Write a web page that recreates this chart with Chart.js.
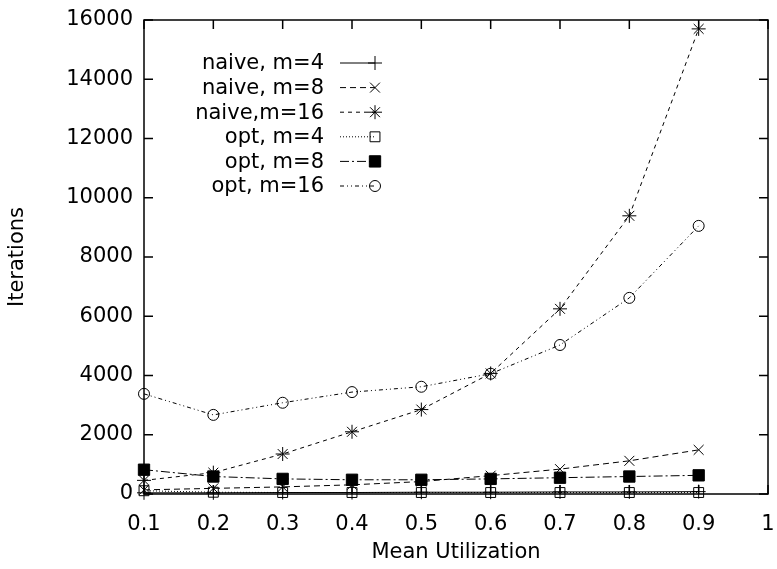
<!DOCTYPE html>
<html>
<head>
<meta charset="utf-8">
<script src="https://cdn.jsdelivr.net/npm/chart.js@4/dist/chart.umd.min.js"></script>
<style>
html,body{margin:0;padding:0;background:#fff;}
#wrap{width:777px;height:569px;}
</style>
</head>
<body>
<div id="wrap"><canvas id="c" width="777" height="569"></canvas></div>
<script>
const utilization = [0.1, 0.2, 0.3, 0.4, 0.5, 0.6, 0.7, 0.8, 0.9];
const naiveM4  = [40, 40, 50, 50, 60, 60, 70, 70, 80];
const naiveM8  = [140, 190, 240, 310, 420, 620, 840, 1120, 1490];
const naiveM16 = [460, 720, 1350, 2100, 2850, 4070, 6250, 9390, 15700];
const optM4    = [110, 60, 50, 50, 50, 50, 50, 50, 50];
const optM8    = [820, 590, 510, 480, 480, 510, 550, 590, 630];
const optM16   = [3380, 2670, 3080, 3440, 3620, 4060, 5030, 6620, 9050];
const xTicks = [0.1, 0.2, 0.3, 0.4, 0.5, 0.6, 0.7, 0.8, 0.9, 1];
const yTicks = [0, 2000, 4000, 6000, 8000, 10000, 12000, 14000, 16000];
const seriesNames = ['naive, m=4', 'naive, m=8', 'naive,m=16', 'opt, m=4', 'opt, m=8', 'opt, m=16'];

const FONT = 'DejaVu Sans';
const toPts = arr => utilization.map((x, i) => ({x: x, y: arr[i]}));

function ds(label, arr, dash, style, radius, filled) {
  return {
    label: label,
    data: toPts(arr),
    borderColor: '#000',
    borderWidth: 1,
    borderDash: dash,
    backgroundColor: filled ? '#000' : 'rgba(0,0,0,0)',
    pointStyle: style,
    pointRadius: radius,
    pointBorderColor: '#000',
    pointBackgroundColor: filled ? '#000' : 'rgba(0,0,0,0)',
    pointBorderWidth: 1,
    showLine: true,
    fill: false,
    tension: 0,
    clip: false
  };
}

const datasets = [
  ds(seriesNames[0], naiveM4, [], 'cross', 7, false),
  ds(seriesNames[1], naiveM8, [6, 4], 'crossRot', 7, false),
  ds(seriesNames[2], naiveM16, [4, 4], 'star', 7, false),
  ds(seriesNames[3], optM4, [1, 2], 'rect', 7, false),
  ds(seriesNames[4], optM8, [9, 3, 2, 3], 'rect', 8, true),
  ds(seriesNames[5], optM16, [4, 3, 1, 3, 1, 3], 'circle', 5.5, false)
];

const framePlugin = {
  id: 'frame',
  afterDraw(chart) {
    const ctx = chart.ctx;
    const a = chart.chartArea;
    const xs = chart.scales.x, ys = chart.scales.y;
    ctx.save();
    ctx.strokeStyle = '#000';
    ctx.lineWidth = 1.5;
    ctx.setLineDash([]);
    ctx.strokeRect(a.left, a.top, a.right - a.left, a.bottom - a.top);
    const tl = 9;
    ctx.beginPath();
    xTicks.forEach(v => {
      const px = xs.getPixelForValue(v);
      ctx.moveTo(px, a.bottom); ctx.lineTo(px, a.bottom - tl);
      ctx.moveTo(px, a.top); ctx.lineTo(px, a.top + tl);
    });
    yTicks.forEach(v => {
      const py = ys.getPixelForValue(v);
      ctx.moveTo(a.left, py); ctx.lineTo(a.left + tl, py);
      ctx.moveTo(a.right, py); ctx.lineTo(a.right - tl, py);
    });
    ctx.stroke();

    // legend
    const textRight = 324, lineL = 340, lineR = 375;
    const y0 = 63, dy = 24.6;
    ctx.font = '21px "' + FONT + '"';
    ctx.textAlign = 'right';
    ctx.textBaseline = 'middle';
    chart.data.datasets.forEach((d, i) => {
      const y = y0 + i * dy;
      ctx.fillStyle = '#000';
      ctx.fillText(d.label, textRight, y + 1);
      ctx.beginPath();
      ctx.setLineDash(d.borderDash);
      ctx.lineWidth = 1;
      ctx.strokeStyle = '#000';
      ctx.moveTo(lineL, y); ctx.lineTo(lineR, y);
      ctx.stroke();
      ctx.setLineDash([]);
      ctx.fillStyle = d.pointBackgroundColor;
      ctx.strokeStyle = '#000';
      Chart.helpers.drawPoint(ctx, {pointStyle: d.pointStyle, radius: d.pointRadius, rotation: 0, borderWidth: 1}, lineR, y);
    });
    ctx.restore();
  }
};

new Chart(document.getElementById('c'), {
  type: 'scatter',
  data: { datasets: datasets },
  plugins: [framePlugin],
  options: {
    responsive: false,
    animation: false,
    events: [],
    layout: { padding: { top: 20, right: 8, left: 0, bottom: 0 } },
    plugins: { legend: { display: false }, tooltip: { enabled: false } },
    scales: {
      x: {
        type: 'linear', min: 0.1, max: 1,
        afterBuildTicks(scale) { scale.ticks = xTicks.map(v => ({value: v})); },
        afterFit(scale) { scale.height = 75; scale.paddingLeft = 0; scale.paddingRight = 0; },
        grid: { display: false, drawTicks: false },
        border: { display: false },
        ticks: {
          color: '#000', padding: 18, maxRotation: 0,
          font: { family: FONT, size: 21 },
          callback: v => String(v)
        },
        title: { display: true, text: 'Mean Utilization', color: '#000',
          font: { family: FONT, size: 21 }, padding: { top: 0, bottom: 4 } }
      },
      y: {
        type: 'linear', min: 0, max: 16000,
        afterBuildTicks(scale) { scale.ticks = yTicks.map(v => ({value: v})); },
        afterFit(scale) { scale.width = 144; scale.paddingTop = 0; scale.paddingBottom = 0; },
        grid: { display: false, drawTicks: false },
        border: { display: false },
        ticks: {
          color: '#000', padding: 11,
          font: { family: FONT, size: 21 },
          callback: v => String(v)
        },
        title: { display: true, text: 'Iterations', color: '#000',
          font: { family: FONT, size: 21 }, padding: { top: 5, bottom: 0 } }
      }
    }
  }
});
</script>
</body>
</html>
